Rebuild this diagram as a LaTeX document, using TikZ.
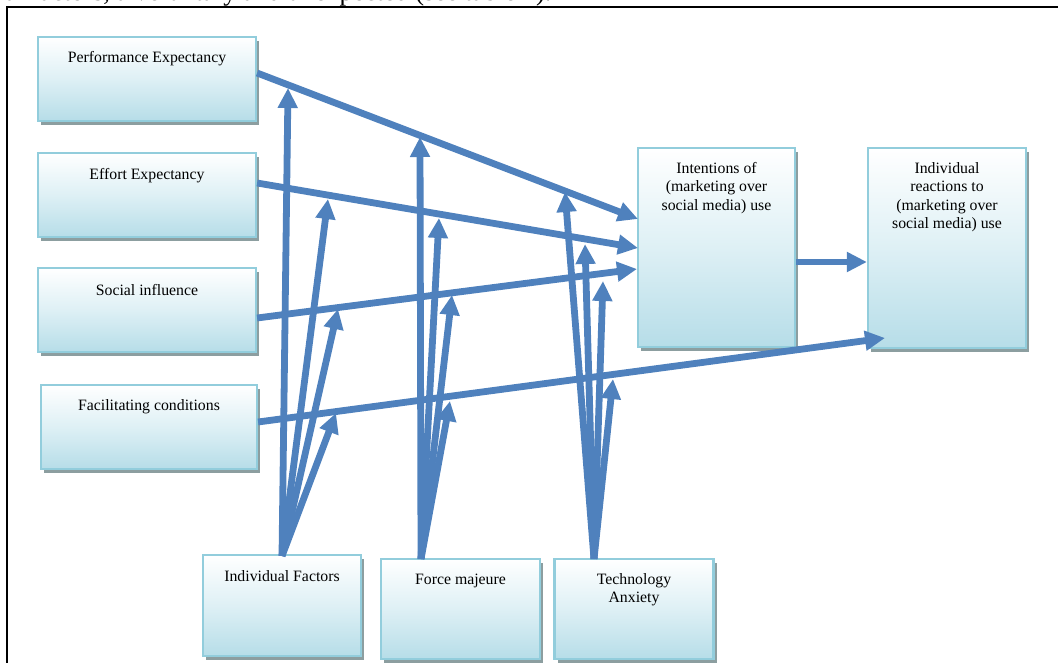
\documentclass[tikz,border=0pt]{standalone}
\usepackage{fontspec}
\setmainfont{Liberation Serif}
\usetikzlibrary{arrows.meta,shadows}
\definecolor{arrowblue}{RGB}{79,129,189}
\definecolor{boxblue}{RGB}{182,221,232}
\definecolor{boxedge}{RGB}{146,205,220}
\definecolor{shadowgray}{RGB}{140,158,160}
\tikzset{
  box/.style={draw=boxedge, line width=2.2pt, top color=white, bottom color=boxblue, middle color={rgb,255:red,222;green,240;blue,245},
    drop shadow={shadow xshift=3pt, shadow yshift=-4pt, fill=shadowgray, opacity=1},
    inner sep=0pt, anchor=center},
  lbl/.style={font=\fontsize{15.8}{18.5}\selectfont, align=center, inner sep=0pt, anchor=north, text=black},
  conn/.style={draw=arrowblue, line width=6.8pt, -{Triangle[length=20pt,width=19pt]}},
  frame/.style={line width=2pt, draw=black}
}
\begin{document}
\begin{tikzpicture}[x=1pt,y=-1pt]
\useasboundingbox (0,0) rectangle (1058,663);
% text line of the page, cut off by the picture's top edge
\node[anchor=base west, inner sep=0pt, font=\fontsize{26.5}{30}\selectfont] (toptext) at (-8,0.5) {ual factors, a voluntary and unexpected (see table 1).};
% frame
\draw[frame] (7,663) -- (7,7) -- (1058,7);
% boxes
\node[box, minimum width=218pt, minimum height=84pt] (PE) at (147,79) {};
\node[box, minimum width=218pt, minimum height=84pt] (EE) at (147,195) {};
\node[box, minimum width=218pt, minimum height=84pt] (SI) at (147,310) {};
\node[box, minimum width=216pt, minimum height=84pt] (FC) at (149,427) {};
\node[box, minimum width=157pt, minimum height=199pt] (INT) at (716.5,247.5) {};
\node[box, minimum width=158pt, minimum height=200pt] (REA) at (947,248) {};
\node[box, minimum width=158pt, minimum height=101pt] (IF) at (282,605.5) {};
\node[box, minimum width=159pt, minimum height=100pt] (FM) at (460.5,609) {};
\node[box, minimum width=159pt, minimum height=100pt] (TA) at (634,609) {};
% labels
\node[lbl] (PEl) at (147,49) {\strut Performance Expectancy};
\node[lbl] (EEl) at (147,166) {\strut Effort Expectancy};
\node[lbl] (SIl) at (147,282) {\strut Social influence};
\node[lbl] (FCl) at (149,397) {\strut Facilitating conditions};
\node[lbl] (INTl) at (716.5,160) {\strut Intentions of\\(marketing over\\social media) use};
\node[lbl] (REAl) at (947,160) {\strut Individual\\reactions to\\(marketing over\\social media) use};
\node[lbl] (IFl) at (282,568) {\strut Individual Factors};
\node[lbl] (FMl) at (460.5,571) {\strut Force majeure};
\node[lbl] (TAl) at (634,571) {\strut Technology\\Anxiety};
% connector end points
\coordinate (peo) at ([yshift=6pt]PE.east);
\coordinate (eeo) at ([yshift=12pt]EE.east);
\coordinate (sio) at ([yshift=-8pt]SI.east);
\coordinate (fco) at ([yshift=5pt]FC.east);
\coordinate (inta) at (638,219);
\coordinate (intb) at (638,248);
\coordinate (intc) at (637,269);
\coordinate (rea) at (885,338);
\coordinate (into) at (INT.east |- 0,262);
\coordinate (reai) at (REA.west |- 0,262);
\coordinate (ifs) at (282,556);
\coordinate (fms) at (421,559);
\coordinate (tas) at (594,559);
\coordinate (m11) at (288,88);
\coordinate (m12) at (328,199);
\coordinate (m13) at (338,309);
\coordinate (m14) at (336,413);
\coordinate (m21) at (420,137);
\coordinate (m22) at (439,218);
\coordinate (m23) at (452,295);
\coordinate (m24) at (450,401);
\coordinate (m31) at (565,192);
\coordinate (m32) at (585,244);
\coordinate (m33) at (603,281);
\coordinate (m34) at (613,379);
% main connectors
\draw[conn] (peo) -- (inta);
\draw[conn] (eeo) -- (intb);
\draw[conn] (sio) -- (intc);
\draw[conn] (fco) -- (rea);
\draw[conn] (into) -- (reai);
% moderator connectors
\foreach \s/\t in {ifs/m11,ifs/m12,ifs/m13,ifs/m14,fms/m21,fms/m22,fms/m23,fms/m24,tas/m31,tas/m32,tas/m33,tas/m34}
  \draw[conn] (\s) -- (\t);
\end{tikzpicture}
\end{document}
